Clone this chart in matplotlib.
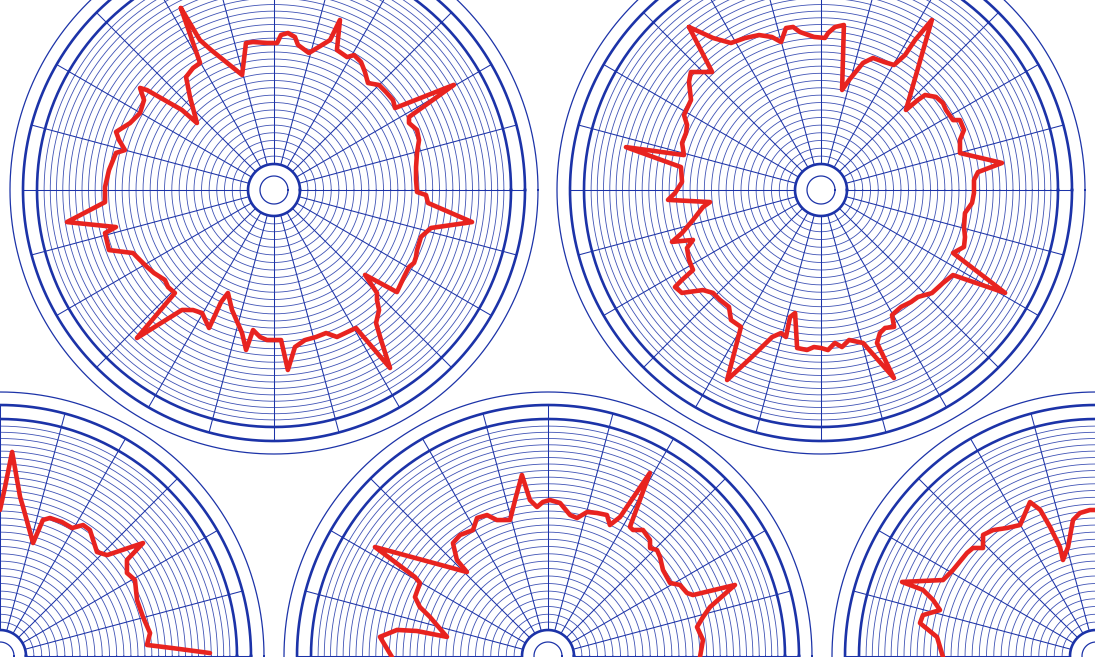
import numpy as np
import matplotlib.pyplot as plt

# red pen traces, angle in degrees (counter-clockwise from east), radius in chart units
disc1_angle = [117.1, 116.3, 114.2, 105.5, 100.8, 98.1, 92.7, 88.8, 87.4, 84.9, 82.2, 80.6, 75.7, 69.5,
               68.8, 65.8, 61.2, 59.3, 55.8, 52.4, 48.7, 45.0, 41.2, 37.1, 34.1, 30.3, 28.4, 26.4, 22.8,
               19.0, 14.5, 9.2, 4.0, -0.8, -1.9, -4.8, -9.2, -13.6, -17.7, -22.8, -25.3, -27.5, -29.7,
               -33.8, -39.7, -43.0, -45.0, -46.9, -48.8, -52.5, -54.5, -56.9, -59.3, -66.8, -70.0, -74.1,
               -78.3, -82.4, -85.6, -87.3, -92.7, -95.4, -98.5, -99.9, -102.6, -109.3, -114.1, -115.3,
               -115.2, -120.3, -124.0, -127.5, -132.8, -133.9, -137.5, -140.5, -145.3, -148.8, -152.4,
               -155.9, -160.0, -165.7, -166.8, -171.2, -175.9, -181.0, -186.9, -193.2, -195.0, -197.9,
               -200.2, -204.9, -209.9, -214.7, -217.3, -218.2, -221.0, -221.0, -227.9, -232.1, -236.4,
               -239.8, -242.9]
disc1_radius = [204.4, 167.3, 153.5, 119.4, 149.6, 149.5, 147.2, 147.0, 155.2, 157.6, 154.4, 147.0, 141.4,
                160.1, 182.4, 153.5, 151.7, 156.9, 154.8, 149.0, 142.4, 148.5, 148.8, 149.2, 146.2, 208.4,
                153.5, 150.7, 155.1, 153.4, 147.7, 143.9, 142.4, 143.0, 152.1, 154.5, 200.6, 161.5, 154.3,
                155.1, 157.0, 157.9, 155.4, 156.4, 159.8, 124.5, 145.7, 150.7, 159.5, 167.6, 184.3, 212.5,
                160.5, 159.9, 152.2, 152.9, 153.2, 158.4, 180.5, 150.2, 150.2, 147.7, 141.6, 162.4, 146.5,
                127.1, 112.8, 123.9, 152.5, 142.5, 144.8, 151.2, 201.7, 142.9, 143.7, 141.4, 145.9, 148.5,
                151.2, 154.4, 175.6, 174.4, 162.3, 209.5, 169.4, 169.0, 166.2, 162.3, 154.3, 162.9, 168.3,
                158.8, 154.5, 158.1, 168.4, 161.6, 121.9, 102.1, 125.3, 143.2, 146.4, 147.0, 204.4]

disc2_angle = [129.0, 125.4, 121.5, 116.6, 111.8, 107.8, 105.1, 102.2, 99.7, 97.6, 92.6, 88.5, 87.4, 85.1,
               82.1, 78.1, 75.7, 71.7, 68.5, 63.8, 59.7, 58.1, 57.9, 56.9, 43.3, 42.9, 42.4, 39.0, 35.5,
               32.6, 27.9, 26.7, 22.8, 19.8, 14.9, 8.5, 6.5, 3.7, -1.1, -4.9, -9.1, -14.5, -18.1, -21.7,
               -25.5, -29.2, -32.8, -37.3, -42.9, -47.8, -51.2, -55.6, -60.4, -61.9, -65.1, -67.6, -69.9,
               -68.8, -74.6, -79.4, -82.4, -84.8, -87.5, -90.0, -92.6, -95.0, -98.6, -101.9, -103.7,
               -103.4, -105.6, -108.4, -110.6, -112.5, -116.3, -120.3, -124.7, -128.2, -132.6, -136.4,
               -139.7, -143.5, -146.4, -147.1, -148.0, -152.1, -156.6, -158.7, -160.8, -162.8, -166.8,
               -171.8, -173.8, -176.3, -178.8, -183.3, -189.3, -192.4, -194.3, -198.7, -202.9, -205.9,
               -208.7, -214.7, -219.3, -222.2, -227.3, -231.0]
disc2_radius = [209.7, 186.5, 172.4, 169.9, 166.9, 160.7, 153.3, 165.7, 165.4, 159.4, 153.2, 152.1, 157.2,
                163.6, 166.6, 102.2, 113.5, 133.8, 141.9, 142.7, 144.8, 159.0, 177.0, 203.0, 116.7, 132.3,
                140.9, 147.9, 149.8, 148.4, 149.4, 155.6, 155.1, 147.7, 143.8, 183.0, 158.0, 153.3, 153.0,
                151.6, 145.8, 147.7, 151.5, 153.9, 146.3, 210.9, 157.0, 153.4, 151.4, 144.4, 143.7, 141.7,
                143.8, 155.2, 152.1, 154.7, 162.9, 201.7, 158.7, 152.6, 158.4, 153.6, 160.2, 158.0, 157.2,
                160.6, 159.8, 125.7, 130.7, 151.1, 148.5, 155.0, 167.7, 180.7, 212.0, 158.6, 158.1, 148.8,
                149.3, 149.2, 154.7, 173.0, 175.3, 165.6, 150.9, 149.4, 146.0, 137.4, 157.8, 145.5, 131.5,
                119.2, 111.6, 153.3, 146.0, 139.2, 141.9, 199.7, 141.4, 146.7, 146.5, 148.9, 156.2, 158.1,
                170.6, 175.6, 160.6, 209.7]

disc3_angle = [95, 90, 88.3, 86.6, 82.8, 81.2, 73.7, 72.5, 70.1, 65.2, 60.6, 57.6, 54.5, 47.0, 43.3, 38.3,
               37.1, 33.2, 29.4, 22.2, 15.3, 8.7, 4.3, 2.6, 0.8]
disc3_radius = [150, 146, 169.1, 204.4, 160.3, 150.8, 117.7, 142.6, 146.8, 147.6, 146.9, 155.1, 154.8,
                142.2, 147.1, 182.3, 159.2, 151.7, 154.9, 148.0, 148.2, 151.8, 147.4, 173.2, 210.0]

disc4_angle = [185, 180.4, 173.5, 170.2, 169.2, 169.3, 161.7, 159.1, 156.1, 150.3, 149.3, 147.8, 134.0,
               133.5, 130.1, 126.0, 120.8, 117.2, 113.4, 110.6, 105.6, 101.9, 98.2, 96.6, 94.2, 91.9, 89.3,
               85.5, 81.1, 78.1, 74.8, 71.1, 67.3, 64.7, 62.6, 60.9, 57.6, 56.0, 53.0, 48.7, 46.6, 44.2,
               41.5, 36.8, 30.9, 28.3, 24.4, 22.8, 20.8, 16.8, 14.1, 11.0, 5.9, -0.4, -5]
disc4_radius = [155, 156, 169.1, 153.2, 133.4, 102.8, 124.3, 137.1, 145.5, 147.4, 154.7, 204.5, 116.7,
                132.3, 147.6, 149.6, 146.6, 155.2, 153.6, 145.2, 141.2, 159.5, 182.9, 157.0, 149.4, 154.1,
                156.0, 153.5, 142.7, 141.0, 149.2, 151.2, 152.8, 144.9, 156.5, 209.5, 152.9, 152.0, 157.8,
                154.5, 148.6, 152.0, 149.5, 143.6, 142.2, 149.9, 152.6, 157.3, 200.0, 169.2, 159.8, 151.8,
                155.8, 152.0, 150]

disc5_angle = [185, 180.4, 173.2, 169.4, 166.7, 163.6, 161.0, 159.1, 159.1, 153.6, 149.0, 141.4, 138.7,
               136.3, 133.0, 129.3, 124.8, 120.1, 113.2, 110.9, 109.6, 108.3, 109.0, 104.4, 99.6, 96.4,
               92.4, 90.4, 85]
disc5_radius = [150, 153, 160.1, 179.1, 177.8, 162.6, 172.4, 185.2, 207.6, 170.8, 166.9, 165.1, 163.7,
                156.3, 165.6, 162.7, 155.9, 151.4, 167.5, 156.4, 137.0, 114.8, 101.5, 112.5, 137.9, 143.9,
                146.1, 146.0, 146]

W, H = 1095, 657
R_AX = 270
BLUE = '#1c33a8'
RED = '#e8231f'

# disc centres in pixels (x from left, y from top)
discs = [
    ((274, 190), disc1_angle, disc1_radius),
    ((821, 190), disc2_angle, disc2_radius),
    ((0, 656), disc3_angle, disc3_radius),
    ((548, 656), disc4_angle, disc4_radius),
    ((1096, 656), disc5_angle, disc5_radius),
]

gaps = np.linspace(7.9, 6.1, 30)
thin_rings = 26 + np.cumsum(gaps)[:-1]
circle = np.linspace(0, 2 * np.pi, 721)

fig = plt.figure(figsize=(W / 100, H / 100), dpi=100)
fig.patch.set_facecolor('white')

for (cx, cy), ang, rad in discs:
    rect = [(cx - R_AX) / W, (H - cy - R_AX) / H, 2 * R_AX / W, 2 * R_AX / H]
    ax = fig.add_axes(rect, projection='polar')
    ax.set_ylim(0, R_AX)
    ax.set_xticks([])
    ax.set_yticks([])
    ax.grid(False)
    ax.spines['polar'].set_visible(False)
    ax.patch.set_alpha(0)

    #concentric grid rings
    for r in thin_rings:
        ax.plot(circle, np.full_like(circle, r), color=BLUE, lw=0.6, alpha=0.85)
    # spokes every 15 degrees
    for a in np.deg2rad(np.arange(0, 360, 15)):
        ax.plot([a, a], [26, 251], color=BLUE, lw=0.75)
    # heavy border rings, outer thin ring and hub
    for r, lw in [(237, 1.9), (251, 1.9), (264, 0.9), (26, 1.9), (14, 0.9)]:
        ax.plot(circle, np.full_like(circle, r), color=BLUE, lw=lw)

    ax.plot(np.deg2rad(ang), rad, color=RED, lw=3.3, solid_joinstyle='round',
            solid_capstyle='round', zorder=5)

fig.savefig('out.png', dpi=100, facecolor='white')
